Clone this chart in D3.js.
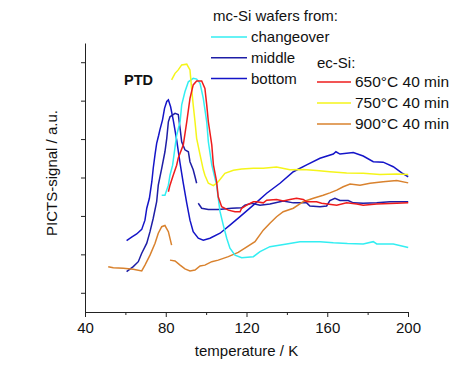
<!DOCTYPE html>
<html>
<head>
<meta charset="utf-8">
<script src="https://cdn.jsdelivr.net/npm/d3@7"></script>
<style>
  body { margin: 0; background: #fff; }
  svg text { font-family: "Liberation Sans", Arial, sans-serif; fill: #111; }
</style>
</head>
<body>
<svg id="chart" width="474" height="374"></svg>
<script>
// PICTS spectra, [temperature K, signal a.u.]
var changeover = [[78,3.04],[79.6,3.04],[81.3,3.3],[82.1,3.56],[83.4,3.82],[85.4,4.6],[87.1,4.95],[87.9,5.39],[89.5,5.73],[91.2,5.99],[93.6,6.08],[95.3,6.06],[97,5.95],[98.6,5.56],[100.3,4.95],[101.1,4.43],[102.8,3.83],[105.2,3.3],[106,2.96],[106.9,2.61],[108.5,2.26],[110.2,1.92],[111.8,1.66],[114.3,1.48],[117.6,1.41],[123.4,1.44],[126.7,1.57],[131.6,1.7],[139.9,1.77],[146.5,1.83],[156.4,1.83],[163,1.8],[170,1.78],[177.8,1.77],[182.8,1.83],[184.5,1.77],[192.7,1.77],[200.1,1.68]];
var middlePeak = [[60.6,1.05],[63.9,1.18],[66.4,1.31],[68.1,1.53],[70.6,1.79],[72.2,2.09],[73.8,2.44],[75.5,2.87],[76.3,3.3],[78,3.74],[79.6,4.17],[80.5,4.52],[81.3,4.95],[82.1,5.08],[84.6,5.17],[86.2,5.14],[87.1,4.78],[87.9,4.43],[89.5,4.22],[91.2,4.17],[92,3.91],[93.6,3.7],[94.5,3.52],[95.3,3.35]];
var middleTail = [[96.1,2.83],[97.8,2.7],[101.1,2.67],[106,2.67],[112.7,2.7],[117.6,2.71],[119.2,2.78],[122.6,2.83],[126.7,2.78],[131.6,2.81],[138.2,2.89],[143.2,2.84],[149.8,2.84],[151.4,2.76],[156.4,2.74],[159.7,2.76],[161.3,2.9],[163.8,2.96],[166.3,2.9],[170.4,2.9],[172.9,2.84],[177.8,2.83],[184.5,2.84],[191.1,2.87],[200.1,2.87]];
var bottom = [[60.6,1.86],[63.1,1.95],[65.6,2.03],[68.1,2.15],[69.7,2.39],[70.6,2.7],[71.9,2.96],[73.1,3.39],[73.8,3.74],[74.7,4.1],[75.5,4.39],[76.5,4.6],[77.1,4.74],[78.4,5.0],[79.4,5.3],[80.5,5.48],[81.3,5.52],[82.4,5.34],[83.7,5.0],[85.4,4.48],[87.1,3.87],[88.7,3.35],[90.4,2.83],[92,2.39],[93.6,2.09],[96.1,1.92],[98.6,1.87],[101.9,1.92],[106.9,2.05],[111.8,2.26],[116.8,2.48],[123.4,2.78],[130,3.09],[136.6,3.35],[143.2,3.65],[149.8,3.83],[156.4,4.0],[163,4.11],[164.3,4.17],[166.3,4.11],[172.9,4.15],[177.8,4.06],[182.8,3.91],[187.7,3.9],[192.7,3.78],[196.9,3.62],[200.1,3.52]];
var ec650 = [[81.3,3.13],[82.1,3.3],[83.7,3.56],[85.4,3.82],[86.2,4.01],[88.7,4.35],[90.4,4.95],[92,5.56],[93.6,5.91],[95.3,6.01],[97.8,6.01],[99.4,5.82],[100.3,5.39],[101.1,4.95],[102.8,4.35],[103.6,3.83],[105.2,3.39],[106,3.0],[107.7,2.74],[111,2.65],[114.3,2.61],[116.8,2.61],[117.6,2.7],[120.1,2.78],[123.4,2.87],[125,2.87],[128.3,2.84],[130,2.91],[134.9,2.93],[138.2,2.89],[141.5,2.93],[144.8,2.96],[148.1,2.93],[149.8,2.87],[154.7,2.87],[157.2,2.83],[164.7,2.78],[169.6,2.84],[174.6,2.81],[177.8,2.78],[184.5,2.81],[194.4,2.83],[200.1,2.84]];
var ec750 = [[82.9,6.04],[84.6,6.21],[86.2,6.3],[87.9,6.43],[90.4,6.45],[92,6.3],[92.8,5.82],[93.6,5.39],[94.5,4.95],[95.3,4.52],[97,4.09],[98.6,3.7],[99.4,3.56],[101.1,3.35],[103.6,3.29],[106,3.39],[109.3,3.61],[113.5,3.69],[117.6,3.72],[123.4,3.74],[128.3,3.74],[134.9,3.77],[141.5,3.7],[148.1,3.71],[154.7,3.68],[161.3,3.65],[169.6,3.62],[177.8,3.61],[186.1,3.58],[194.4,3.59],[200.1,3.58]];
var ec900a = [[51.5,1.18],[54,1.15],[59,1.14],[63.9,1.11],[68.1,1.07],[69.7,1.22],[72.2,1.48],[74.7,1.79],[76.3,2.05],[78,2.22],[79.6,2.25],[81.3,2.09],[82.9,1.74]];
var ec900b = [[82.1,1.35],[84.6,1.33],[87.1,1.22],[89.5,1.12],[92,1.07],[94.5,1.09],[97,1.2],[99.4,1.22],[102.8,1.31],[106,1.35],[111,1.44],[115.9,1.55],[119.2,1.66],[124.2,1.83],[128.3,2.13],[131.6,2.31],[134.9,2.48],[138.2,2.61],[143.2,2.7],[148.1,2.87],[153.1,2.96],[158,3.04],[161.3,3.1],[164.7,3.17],[167.9,3.26],[171.3,3.33],[176.2,3.3],[181.2,3.35],[187.7,3.39],[194.4,3.42],[200.1,3.36]];

var xMajor = [40, 80, 120, 160, 200];
var xMinor = [60, 100, 140, 180];
var yTicks = [0.5, 1.5, 2.5, 3.5, 4.5, 5.5, 6.5];

var mcLabels = ["changeover", "middle", "bottom"];
var mcColors = ["#33eef2", "#1e1ea6", "#1414c8"];
var ecLabels = ["650°C 40 min", "750°C 40 min", "900°C 40 min"];
var ecColors = ["#ee1c1c", "#f5f51a", "#d9822e"];

var svg = d3.select("#chart");
var x = d3.scaleLinear().domain([40, 200]).range([85, 408]);
var y = d3.scaleLinear().domain([0, 7]).range([312, 43]);

var series = [
  { d: bottom, c: mcColors[2] },
  { d: middlePeak, c: mcColors[1] },
  { d: middleTail, c: mcColors[1] },
  { d: ec900a, c: ecColors[2] },
  { d: ec900b, c: ecColors[2] },
  { d: changeover, c: mcColors[0] },
  { d: ec750, c: ecColors[1] },
  { d: ec650, c: ecColors[0] }
];

var line = d3.line().x(function(d) { return x(d[0]); }).y(function(d) { return y(d[1]); });

svg.selectAll("path.curve")
  .data(series)
  .enter()
  .append("path")
  .attr("class", "curve")
  .attr("d", function(s) { return line(s.d); })
  .attr("fill", "none")
  .attr("stroke", function(s) { return s.c; })
  .attr("stroke-width", 1.5);

// axes
var xAxis = svg.append("g").attr("transform", "translate(0,312)")
  .call(d3.axisBottom(x).tickValues(xMajor).tickSize(5).tickSizeOuter(0).tickPadding(5));
svg.append("g").attr("transform", "translate(0,312)")
  .call(d3.axisBottom(x).tickValues(xMinor).tickSize(3).tickSizeOuter(0).tickFormat(""))
  .select(".domain").remove();
var yAxis = svg.append("g").attr("transform", "translate(85,0)")
  .call(d3.axisLeft(y).tickValues(yTicks).tickSize(4).tickSizeOuter(0).tickFormat(""));

svg.selectAll(".domain, .tick line").attr("stroke", "#222");
xAxis.selectAll("text").attr("font-size", "15px").attr("fill", "#111");

svg.append("text").attr("x", 246.5).attr("y", 356).attr("text-anchor", "middle")
  .attr("font-size", "15px").text("temperature / K");
svg.append("text").attr("transform", "translate(57,173) rotate(-90)").attr("text-anchor", "middle")
  .attr("font-size", "15px").text("PICTS-signal / a.u.");

svg.append("text").attr("x", 124).attr("y", 85).attr("font-size", "14.5px")
  .attr("font-weight", "bold").text("PTD");

// legends
svg.append("text").attr("x", 213).attr("y", 21).attr("font-size", "15px").text("mc-Si wafers from:");
var mcG = svg.selectAll("g.mc").data(mcLabels).enter().append("g").attr("class", "mc")
  .attr("transform", function(d, i) { return "translate(211," + (37 + i * 20.8) + ")"; });
mcG.append("line").attr("x1", 0).attr("x2", 36).attr("y1", 0).attr("y2", 0)
  .attr("stroke", function(d, i) { return mcColors[i]; }).attr("stroke-width", 1.5);
mcG.append("text").attr("x", 40).attr("y", 5).attr("font-size", "15px").text(function(d) { return d; });

svg.append("text").attr("x", 317).attr("y", 68).attr("font-size", "15px").text("ec-Si:");
var ecG = svg.selectAll("g.ec").data(ecLabels).enter().append("g").attr("class", "ec")
  .attr("transform", function(d, i) { return "translate(317," + (82 + i * 21) + ")"; });
ecG.append("line").attr("x1", 0).attr("x2", 34).attr("y1", 0).attr("y2", 0)
  .attr("stroke", function(d, i) { return ecColors[i]; }).attr("stroke-width", 1.5);
ecG.append("text").attr("x", 38).attr("y", 5).attr("font-size", "15.5px").text(function(d) { return d; });
</script>
</body>
</html>
